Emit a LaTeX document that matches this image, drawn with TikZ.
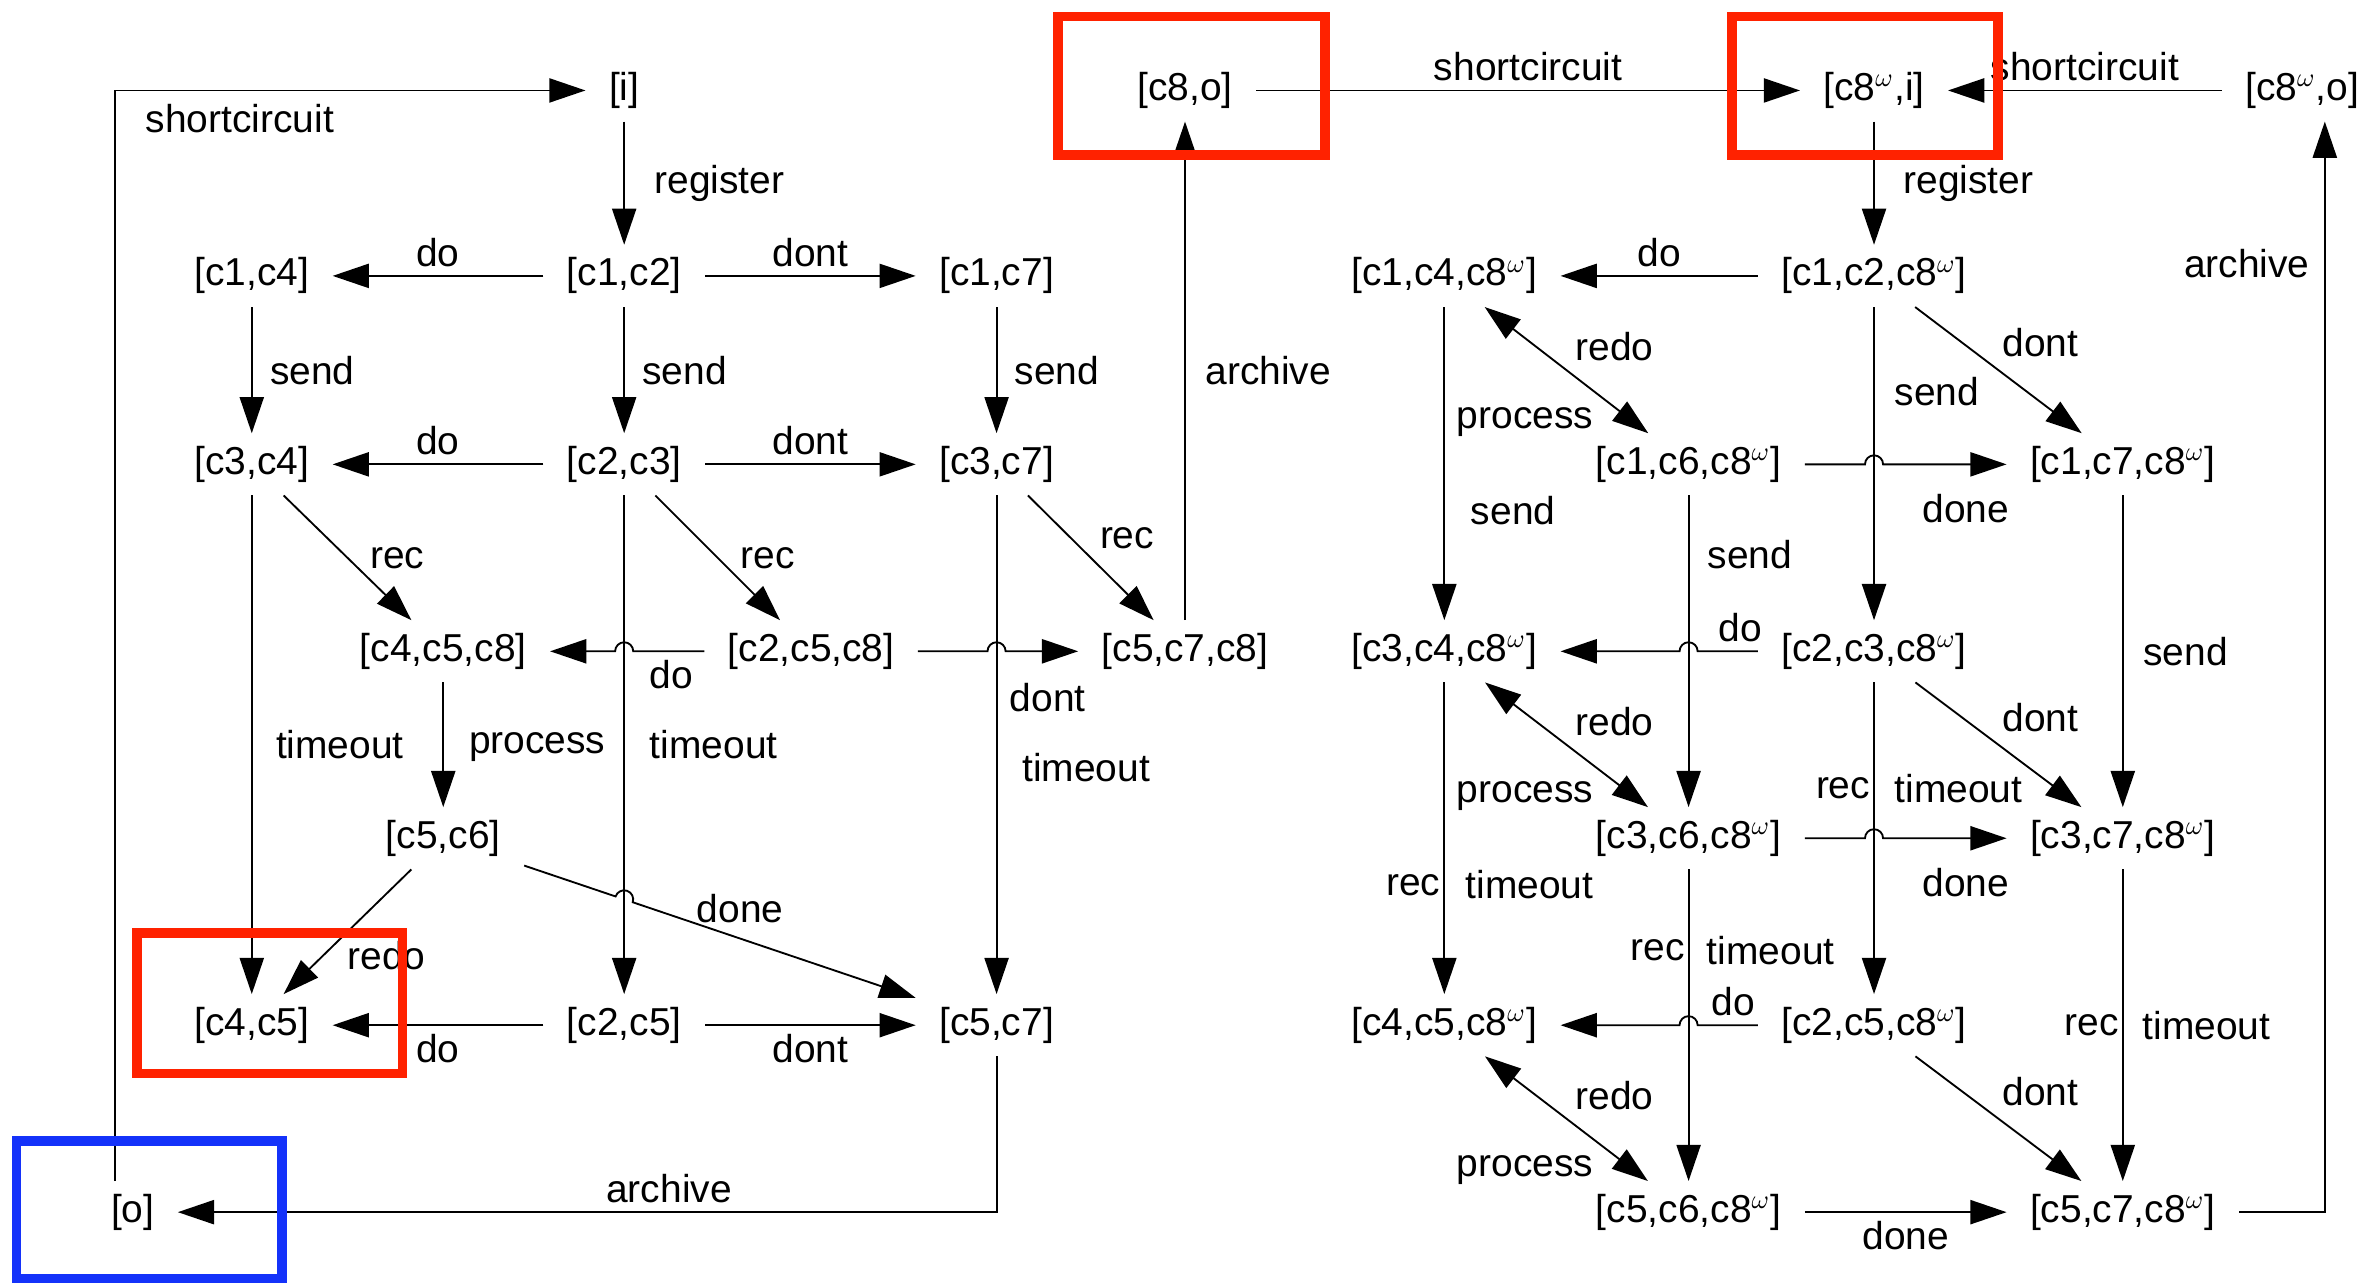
\documentclass[tikz,border=0pt]{standalone}
\usepackage{fontspec}
\setmainfont{Liberation Sans}
\usetikzlibrary{arrows.meta,calc}
\definecolor{boxred}{RGB}{255,34,0}
\definecolor{boxblue}{RGB}{20,50,250}
\newcommand{\omg}{$^{\omega}$}

\begin{document}
\begin{tikzpicture}[x=0.02cm,y=-0.02cm,font=\fontsize{14.7}{17}\selectfont,line width=0.7pt,
		>={Triangle[length=4.8mm,width=3.2mm]},
		every node/.style={inner sep=1.1mm},
		state/.style={inner xsep=3mm,inner ysep=1.6mm},
		box/.style={line width=3.7pt}]
			\useasboundingbox (0,0) rectangle (1568,851.6);

			%left nodes
			\node[state] (i) at (414,60) {[i]};
			\node[state] (c8o) at (786,60) {[c8,o]};
			\node[state] (c1c4) at (167,183) {[c1,c4]};
			\node[state] (c1c2) at (414,183) {[c1,c2]};
			\node[state] (c1c7) at (661,183) {[c1,c7]};
			\node[state] (c3c4) at (167,308) {[c3,c4]};
			\node[state] (c2c3) at (414,308) {[c2,c3]};
			\node[state] (c3c7) at (661,308) {[c3,c7]};
			\node[state] (c4c5c8) at (294,432) {[c4,c5,c8]};
			\node[state] (c2c5c8) at (538,432) {[c2,c5,c8]};
			\node[state] (c5c7c8) at (786,432) {[c5,c7,c8]};
			\node[state] (c5c6) at (294,556) {[c5,c6]};
			\node[state] (c4c5) at (167,680) {[c4,c5]};
			\node[state] (c2c5) at (414,680) {[c2,c5]};
			\node[state] (c5c7) at (661,680) {[c5,c7]};
			\node[state] (o) at (88,804) {[o]};

			%right nodes
			\node[state] (c8wi) at (1243,60) {[c8\omg,i]};
			\node[state] (c8wo) at (1527,60) {[c8\omg,o]};
			\node[state] (c1c4w) at (958,183) {[c1,c4,c8\omg]};
			\node[state] (c1c2w) at (1243,183) {[c1,c2,c8\omg]};
			\node[state] (c1c6w) at (1120,308) {[c1,c6,c8\omg]};
			\node[state] (c1c7w) at (1408,308) {[c1,c7,c8\omg]};
			\node[state] (c3c4w) at (958,432) {[c3,c4,c8\omg]};
			\node[state] (c2c3w) at (1243,432) {[c2,c3,c8\omg]};
			\node[state] (c3c6w) at (1120,556) {[c3,c6,c8\omg]};
			\node[state] (c3c7w) at (1408,556) {[c3,c7,c8\omg]};
			\node[state] (c4c5w) at (958,680) {[c4,c5,c8\omg]};
			\node[state] (c2c5w) at (1243,680) {[c2,c5,c8\omg]};
			\node[state] (c5c6w) at (1120,804) {[c5,c6,c8\omg]};
			\node[state] (c5c7w) at (1408,804) {[c5,c7,c8\omg]};

			%left edges
			\draw[->] ($(o.north)+(-12,0)$) |- node[pos=.633,below=.6mm] {shortcircuit} (i);
			\draw[->] (i) -- node[right=2.8mm] {register} (c1c2);
			\draw[->] (c1c2) -- node[above] {do} (c1c4);
			\draw[->] (c1c2) -- node[above] {dont} (c1c7);
			\draw[->] (c1c4) -- node[right=1.2mm] {send} (c3c4);
			\draw[->] (c1c2) -- node[right=1.2mm] {send} (c2c3);
			\draw[->] (c1c7) -- node[right=1.2mm] {send} (c3c7);
			\draw[->] (c2c3) -- node[above] {do} (c3c4);
			\draw[->] (c2c3) -- node[above] {dont} (c3c7);
			\draw[->] (c3c4) -- node[right=1.8mm] {rec} (c4c5c8);
			\draw[->] (c2c3) -- node[right=1.8mm] {rec} (c2c5c8);
			\draw[->] (c3c7) -- node[above right] {rec} (c5c7c8);
			\draw[->] (c5c7c8) -- node[right=1.5mm] {archive} (c8o);
			\draw[->] (c2c5c8) -- node[pos=.46,below] {do} (420,432) arc[start angle=0,end angle=-180,radius=6] -- (c4c5c8);
			\draw[->] (c2c5c8) -- (655,432) arc[start angle=180,end angle=360,radius=6] -- node[pos=.58,below=3mm] {dont} (c5c7c8);
			\draw[->] (c3c4) -- node[right=2mm] {timeout} (c4c5);
			\draw[->] (c4c5c8) -- node[pos=.52,right=2.2mm] {process} (c5c6);
			\draw[->] (c2c3) -- node[right=2.2mm] {timeout} (c2c5);
			\draw[->] (c3c7) -- node[pos=.545,right=2.2mm] {timeout} (c5c7);
			\draw[->] (c5c6) -- (408.3,594.6) arc[start angle=198.67,end angle=378.67,radius=6] -- node[pos=.38,above=.8mm] {done} (c5c7);
			\draw[->] (c5c6) -- node[pos=.69,right=2mm] {redo} (c4c5);
			\draw[->] (c2c5) -- node[below] {do} (c4c5);
			\draw[->] (c2c5) -- node[below] {dont} (c5c7);
			\draw[->] (c5c7) |- node[pos=.7,above] {archive} (o);
			\draw[->] (c8o) -- node[above] {shortcircuit} (c8wi);

			%right edges
			\draw[->] (c8wo) -- node[above] {shortcircuit} (c8wi);
			\draw[->] (c8wi) -- node[right=2.7mm] {register} (c1c2w);
			\draw[->] (c1c2w) -- node[above] {do} (c1c4w);
			\draw[->] (c1c2w) -- node[pos=.47,above right] {dont} (c1c7w);
			\draw[->] (c1c2w) -- node[pos=.27,right=1.5mm] {send} (c2c3w);
			\draw[<->] (c1c4w) -- node[above right] {redo} node[pos=.72,below left] {process} (c1c6w);
			\draw[->] (c1c4w) -- node[pos=.65,right=2.3mm] {send} (c3c4w);
			\draw[->] (c1c6w) -- (1237,308) arc[start angle=180,end angle=360,radius=6] -- node[pos=.67,below=2.8mm] {done} (c1c7w);
			\draw[->] (c1c6w) -- node[pos=.19,right=1.3mm] {send} (c3c6w);
			\draw[->] (c1c7w) -- node[right=1.5mm] {send} (c3c7w);
			\draw[->] (c2c3w) -- node[pos=.29,above] {do} (1126,432) arc[start angle=0,end angle=-180,radius=6] -- (c3c4w);
			\draw[->] (c2c3w) -- node[pos=.47,above right] {dont} (c3c7w);
			\draw[->] (c2c3w) -- node[pos=.34,left,inner sep=.4mm] {rec} node[pos=.34,right=1.5mm] {timeout} (c2c5w);
			\draw[<->] (c3c4w) -- node[above right] {redo} node[pos=.72,below left] {process} (c3c6w);
			\draw[->] (c3c4w) -- node[pos=.65,left,inner sep=.4mm] {rec} node[pos=.65,right=1.6mm] {timeout} (c4c5w);
			\draw[->] (c3c6w) -- (1237,556) arc[start angle=180,end angle=360,radius=6] -- node[pos=.67,below=2.8mm] {done} (c3c7w);
			\draw[->] (c3c6w) -- node[pos=.26,left,inner sep=.4mm] {rec} node[pos=.26,right=1.2mm] {timeout} (c5c6w);
			\draw[->] (c3c7w) -- node[left,inner sep=.4mm] {rec} node[right=1.4mm] {timeout} (c5c7w);
			\draw[->] (c2c5w) -- node[pos=.41,above] {do} (1126,680) arc[start angle=0,end angle=-180,radius=6] -- (c4c5w);
			\draw[<->] (c4c5w) -- node[above right] {redo} node[pos=.72,below left] {process} (c5c6w);
			\draw[->] (c2c5w) -- node[pos=.47,above right] {dont} (c5c7w);
			\draw[->] (c5c6w) -- node[below] {done} (c5c7w);
			\draw[->] (c5c7w) -| node[pos=.935,left=.8mm] {archive} ($(c8wo.south)+(15,0)$);

			%highlight boxes
			\draw[box,boxred] (702,11) rectangle (879,103);
			\draw[box,boxred] (1149,11) rectangle (1325,103);
			\draw[box,boxred] (91,619) rectangle (267,712);
			\draw[box,boxblue] (11,757) rectangle (187,848);
		\end{tikzpicture}
\end{document}
